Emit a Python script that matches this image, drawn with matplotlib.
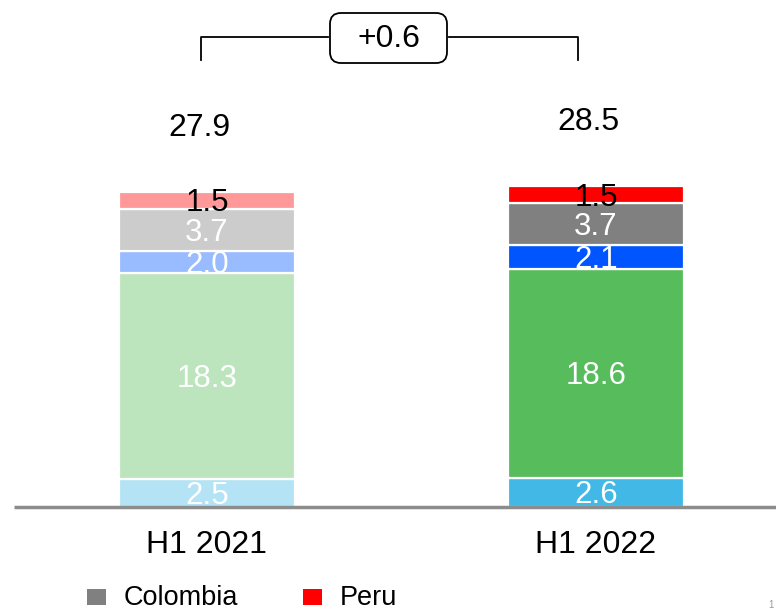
import matplotlib
matplotlib.use("Agg")
import matplotlib.pyplot as plt
from matplotlib.patches import FancyBboxPatch, Rectangle

plt.rcParams['font.family'] = ['Liberation Sans', 'DejaVu Sans']

categories = ["H1 2021", "H1 2022"]
totals = ["27.9", "28.5"]
segment_names = ["Seg1", "Seg2", "Seg3", "Colombia", "Peru"]
values_2021 = [2.5, 18.3, 2.0, 3.7, 1.5]
values_2022 = [2.6, 18.6, 2.1, 3.7, 1.5]
colors_2021 = ["#b3e3f4", "#bde5bd", "#99bbff", "#cccccc", "#ff9999"]
colors_2022 = ["#41b8e6", "#57bd5c", "#0055ff", "#808080", "#ff0000"]
label_colors = ["white", "white", "white", "white", "black"]
delta_label = "+0.6"
legend_names = ["Colombia", "Peru"]
legend_colors = ["#808080", "#ff0000"]

W, H = 776, 612
fig = plt.figure(figsize=(W / 100, H / 100), dpi=100)

base_px = 507
px_per_unit = 11.25
ax = fig.add_axes([0, (H - base_px) / H, 1, base_px / H])
ax.set_ylim(0, base_px / px_per_unit)
c0, c1 = 207, 596
unit_x = c1 - c0
ax.set_xlim(-c0 / unit_x, 1 + (W - c1) / unit_x)
ax.axis('off')
bw = 176 / unit_x
shift = 3 / px_per_unit

series = [(values_2021, colors_2021), (values_2022, colors_2022)]
for i, (vals, cols) in enumerate(series):
    bottom = 0
    for v, c, lc in zip(vals, cols, label_colors):
        ax.bar(i, v, width=bw, bottom=bottom, color=c, edgecolor='white', linewidth=1.6)
        ax.text(i, bottom + v / 2 - shift, f"{v:.1f}", ha='center', va='center',
                fontsize=22.5, color=lc)
        bottom += v
    ax.text(i - 0.02, bottom + 5.7, totals[i], ha='center', va='center', fontsize=23, color='black')

# baseline
ax.plot([-c0 / unit_x + 14 / unit_x, 1 + (W - c1) / unit_x], [0, 0], color='#8c8c8c',
        lw=2.5, clip_on=False, solid_capstyle='butt')

# category labels
for i, cat in enumerate(categories):
    fig.text((c0 + i * unit_x) / W, 1 - 545 / H, cat, ha='center', va='center', fontsize=23)

def fx(x):
    return x / W

def fy(y):
    return 1 - y / H

# delta bracket
lw = 1.3
fig.add_artist(plt.Line2D([fx(201), fx(201), fx(328)], [fy(60), fy(37), fy(37)], color='black', lw=lw))
fig.add_artist(plt.Line2D([fx(449), fx(578), fx(578)], [fy(37), fy(37), fy(60)], color='black', lw=lw))
box = FancyBboxPatch((fx(330), fy(63)), fx(117), (63 - 13) / H,
                     boxstyle="round,pad=0,rounding_size=0.014",
                     transform=fig.transFigure, facecolor='white', edgecolor='black', lw=lw,
                     mutation_aspect=W / H)
fig.add_artist(box)
fig.text(fx(389), fy(39), delta_label, ha='center', va='center', fontsize=23)

# legend
leg_x = [87, 303]
for x, name, col in zip(leg_x, legend_names, legend_colors):
    fig.add_artist(Rectangle((fx(x), fy(605)), 19 / W, 16 / H, transform=fig.transFigure,
                             facecolor=col, edgecolor='none'))
    fig.text(fx(x + 37), fy(598), name, ha='left', va='center', fontsize=19.5)

# page number
fig.text(fx(774), fy(610), "1", ha='right', va='bottom', fontsize=7, color='#999999')

fig.savefig("out.png", dpi=100)
